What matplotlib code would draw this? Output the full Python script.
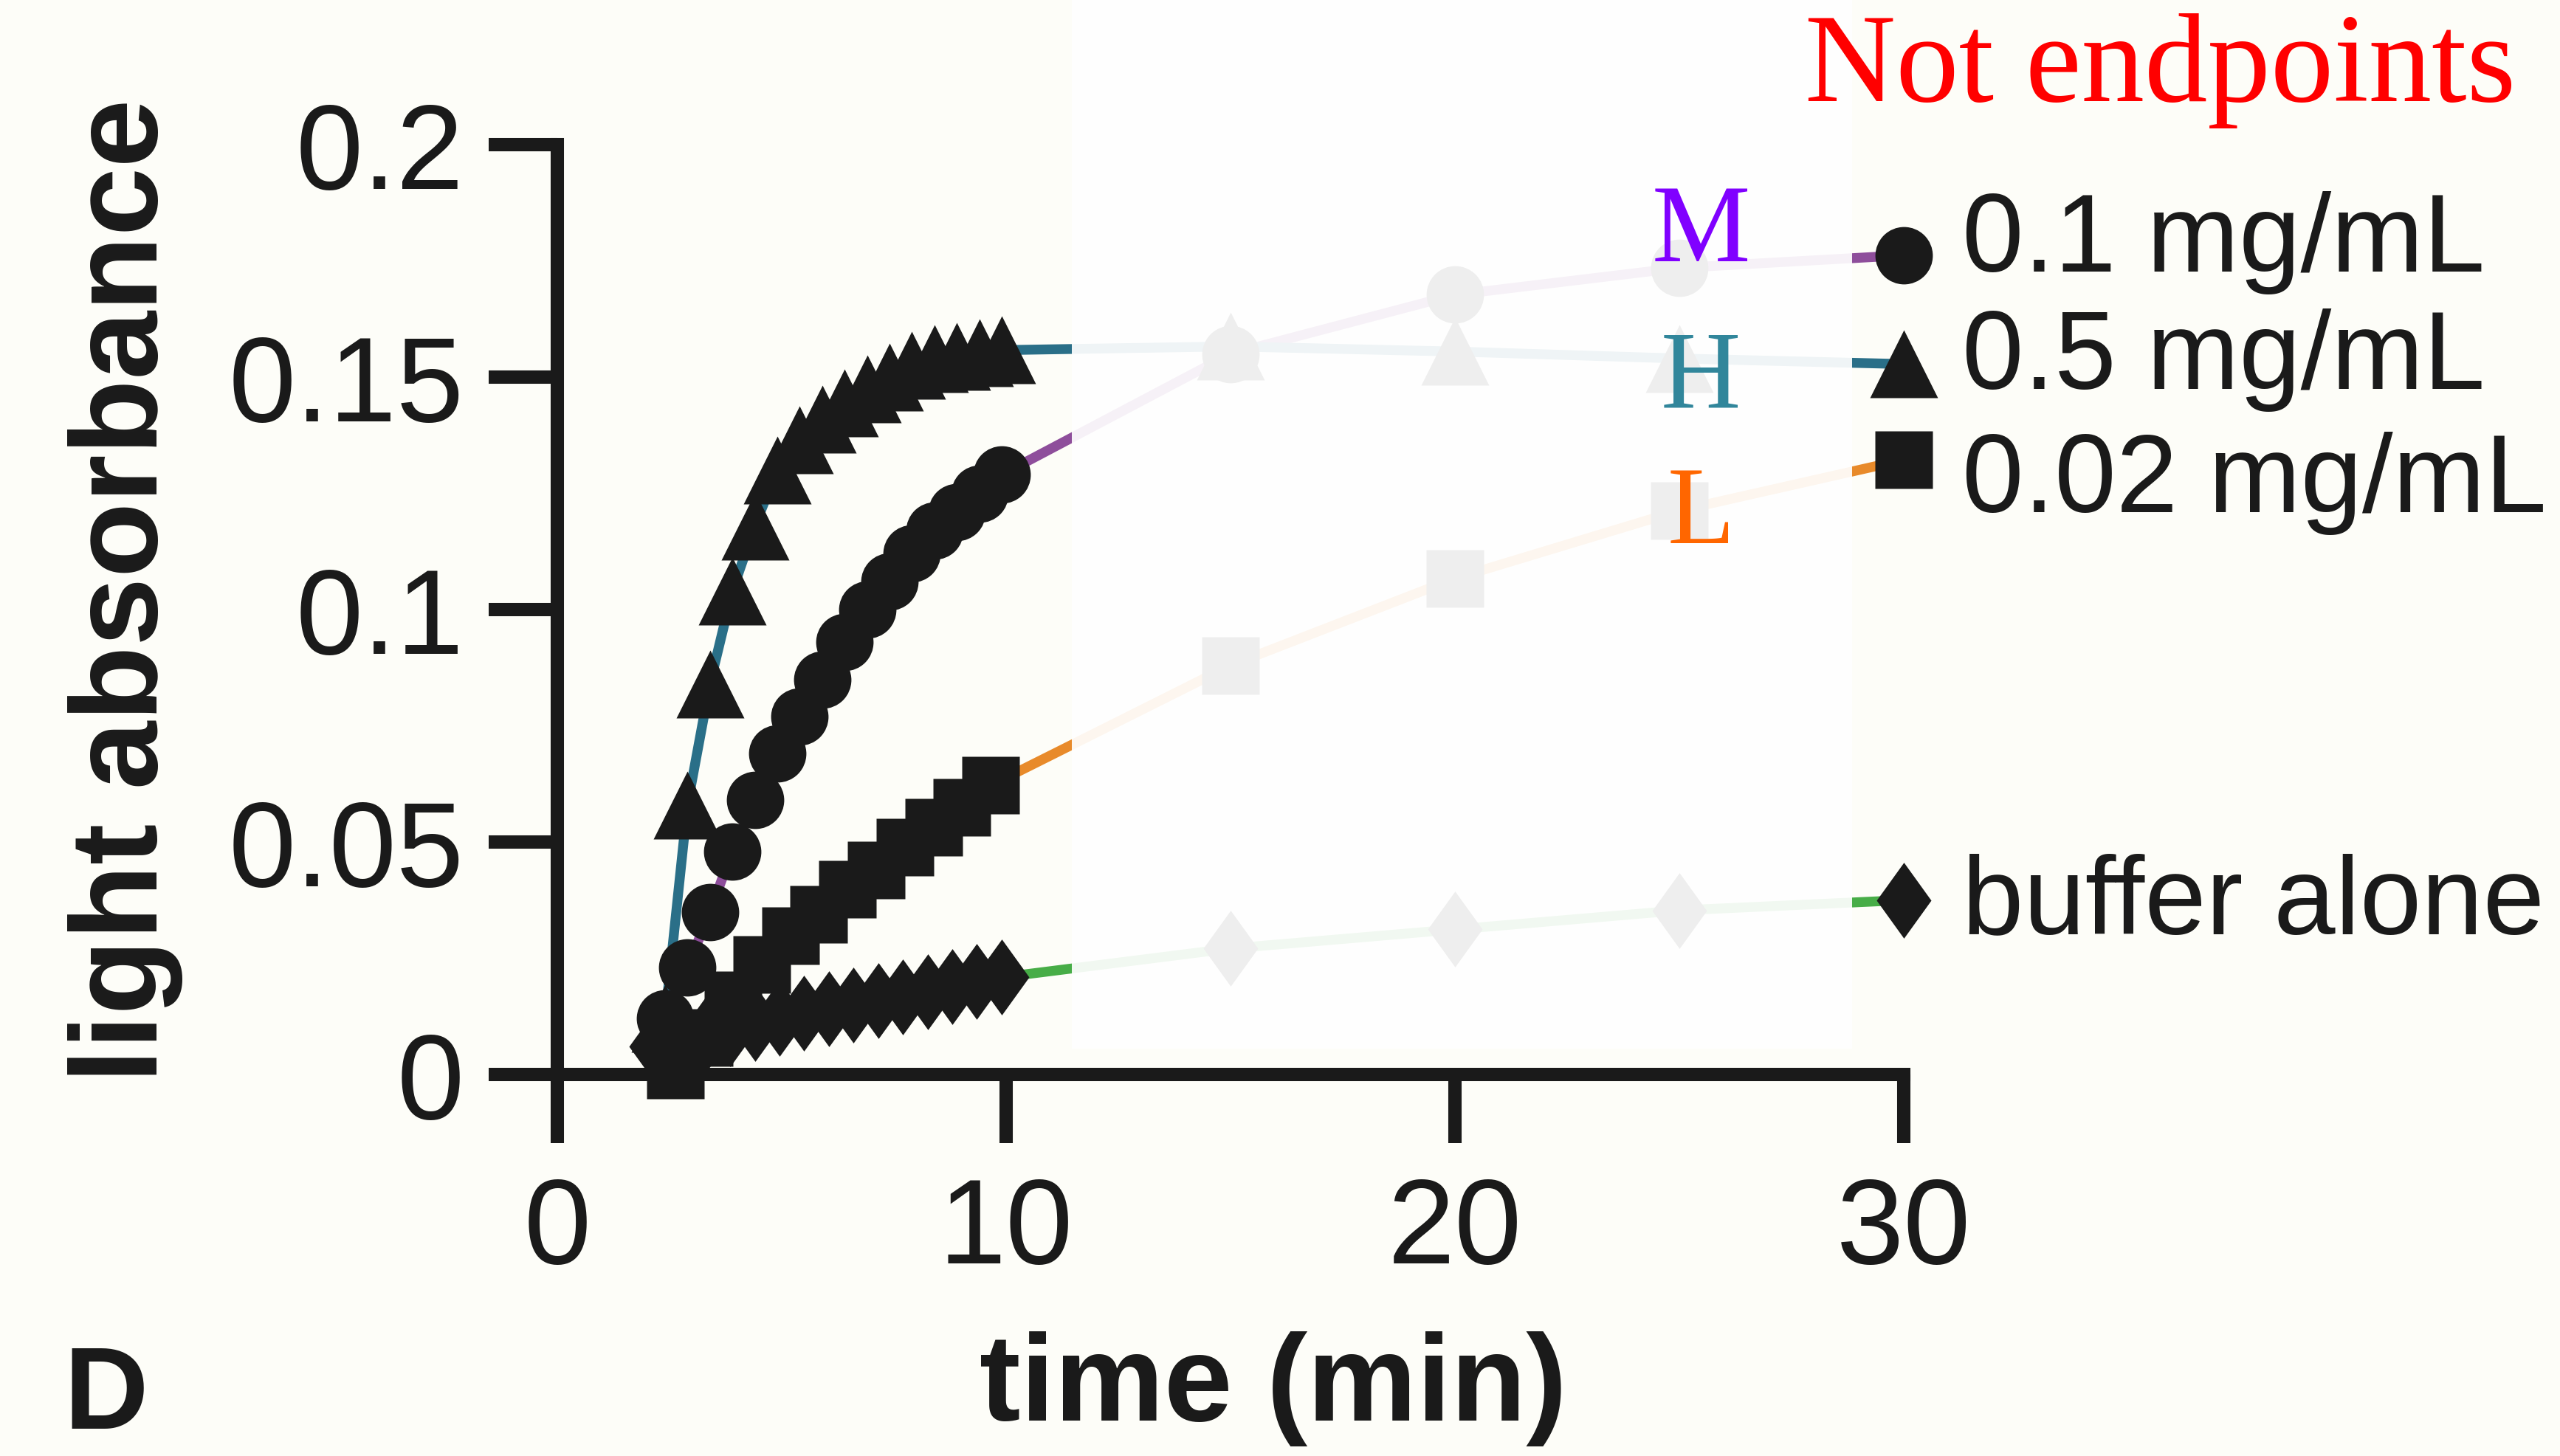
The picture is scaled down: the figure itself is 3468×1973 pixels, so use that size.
import matplotlib
matplotlib.use("Agg")
import matplotlib.pyplot as plt
from matplotlib.patches import Rectangle

# -------------------------------
# DATA
# -------------------------------
# dense reads, 0.1 mg/mL (circles) and 0.5 mg/mL (triangles)
t_mid = [2.4, 2.9, 3.4, 3.9, 4.4, 4.9, 5.4, 5.9, 6.4, 6.9, 7.4, 7.9, 8.4, 8.9, 9.4, 9.9]
abs_mid = [0.012, 0.023, 0.035, 0.048, 0.059, 0.069, 0.077, 0.085,
           0.093, 0.100, 0.106, 0.112, 0.117, 0.121, 0.125, 0.129]
t_high = [2.4, 2.9, 3.4, 3.9, 4.4, 4.9, 5.4, 5.9, 6.4, 6.9, 7.4, 7.9, 8.4, 8.9, 9.4, 9.9]
abs_high = [0.012, 0.058, 0.084, 0.104, 0.118, 0.130, 0.1365, 0.141,
            0.1445, 0.1475, 0.150, 0.1525, 0.154, 0.1545, 0.1553, 0.1558]
# 0.02 mg/mL (squares)
t_low = [2.63, 3.27, 3.91, 4.55, 5.19, 5.83, 6.47, 7.11, 7.75, 8.38, 9.02, 9.66]
abs_low = [0.001, 0.008, 0.016, 0.0236, 0.0298, 0.0345, 0.0398, 0.044,
           0.0489, 0.0531, 0.0575, 0.0622]
# buffer alone (diamonds)
t_buf = [2.2, 2.75, 3.3, 3.85, 4.4, 4.95, 5.5, 6.05, 6.6, 7.15, 7.7, 8.25, 8.8, 9.35, 9.9]
abs_buf = [0.006, 0.0074, 0.0086, 0.0098, 0.011, 0.0121, 0.0131, 0.0142,
           0.015, 0.0159, 0.0167, 0.0178, 0.0189, 0.02, 0.0209]

# late reads
t_late = [15, 20, 25, 30]
late_mid = [0.155, 0.1677, 0.1735, 0.1762]
late_high = [0.1566, 0.1555, 0.154, 0.1528]
late_low = [0.088, 0.1067, 0.1213, 0.1322]
late_buf = [0.0271, 0.0312, 0.0353, 0.0375]

labels = ["0.1 mg/mL", "0.5 mg/mL", "0.02 mg/mL", "buffer alone"]
line_colors = ["#8e4e9b", "#2a6f88", "#e88a2a", "#47ad47"]
tags = ["M", "H", "L"]
tag_colors = ["#8000ff", "#31869b", "#ff6600"]

# -------------------------------
# FIGURE
# -------------------------------
W, H = 3468, 1974
fig = plt.figure(figsize=(W / 200, H / 200), dpi=200, facecolor="#fdfdf8")


def fx(px):
    return px / W


def fy(py):
    return 1 - py / H


ax = fig.add_axes([fx(755), fy(1457), fx(2579) - fx(755), fy(197) - fy(1457)])
ax.set_facecolor("none")

diamond = [(0, 1), (0.72, 0), (0, -1), (-0.72, 0)]
series = [
    (t_mid, abs_mid, late_mid, "o", 28),
    (t_high, abs_high, late_high, "^", 33),
    (t_low, abs_low, late_low, "s", 28),
    (t_buf, abs_buf, late_buf, diamond, 37),
]

for (t, a, late, mk, ms), col in zip(series, line_colors):
    tt = t + t_late
    aa = a + late
    ax.plot(tt, aa, color=col, lw=4.8, zorder=2, clip_on=False,
            solid_capstyle="butt")
    ax.plot(tt, aa, ls="none", marker=mk, ms=ms, mfc="#1a1a1a", mec="none",
            zorder=3, clip_on=False)

ax.set_xlim(0, 30)
ax.set_ylim(0, 0.2)
ax.set_xticks([0, 10, 20, 30])
ax.set_yticks([0, 0.05, 0.1, 0.15, 0.2])
ax.set_yticklabels(["0", "0.05", "0.1", "0.15", "0.2"])

for s in ["top", "right"]:
    ax.spines[s].set_visible(False)
for s in ["left", "bottom"]:
    ax.spines[s].set_linewidth(6.5)
    ax.spines[s].set_color("#1a1a1a")

ax.tick_params(direction="out", length=33.5, width=6.5, color="#1a1a1a",
               labelsize=59, labelcolor="#1a1a1a")
ax.tick_params(axis="y", pad=12)
ax.tick_params(axis="x", pad=16)
for lab in ax.get_xticklabels() + ax.get_yticklabels():
    lab.set_fontfamily("Liberation Sans")

# white veil over the middle of the curves
veil = Rectangle((fx(1452), fy(1422)), fx(2509) - fx(1452), 1 - fy(1422),
                 transform=fig.transFigure, facecolor="white", edgecolor="none",
                 alpha=0.93, zorder=5)
fig.add_artist(veil)

# -------------------------------
# TEXT
# -------------------------------
sans = "Liberation Sans"
serif = "Liberation Serif"

fig.text(fx(170), fy(800), "light absorbance", rotation=90, ha="center",
         va="center", fontsize=60, fontweight="bold", family=sans, color="#1a1a1a")
fig.text(fx(1725), fy(1925), "time (min)", ha="center", va="baseline",
         fontsize=60, fontweight="bold", family=sans, color="#1a1a1a")
fig.text(fx(86), fy(1936), "D", ha="left", va="baseline",
         fontsize=57, fontweight="bold", family=sans, color="#1a1a1a")

legend_baselines = [368, 527, 694, 1265]
for lab, yb in zip(labels, legend_baselines):
    fig.text(fx(2658), fy(yb), lab, ha="left", va="baseline", fontsize=54,
             family=sans, color="#1a1a1a", zorder=6)

tag_baselines = [354, 551, 736]
for tg, col, yb in zip(tags, tag_colors, tag_baselines):
    fig.text(fx(2304), fy(yb), tg, ha="center", va="baseline", fontsize=54,
             family=serif, color=col, zorder=6)

fig.text(fx(2445), fy(137), "Not endpoints", ha="left", va="baseline",
         fontsize=61.5, family=serif, color="#ff0000", zorder=6)

fig.savefig("out.png", dpi=200, facecolor=fig.get_facecolor())
